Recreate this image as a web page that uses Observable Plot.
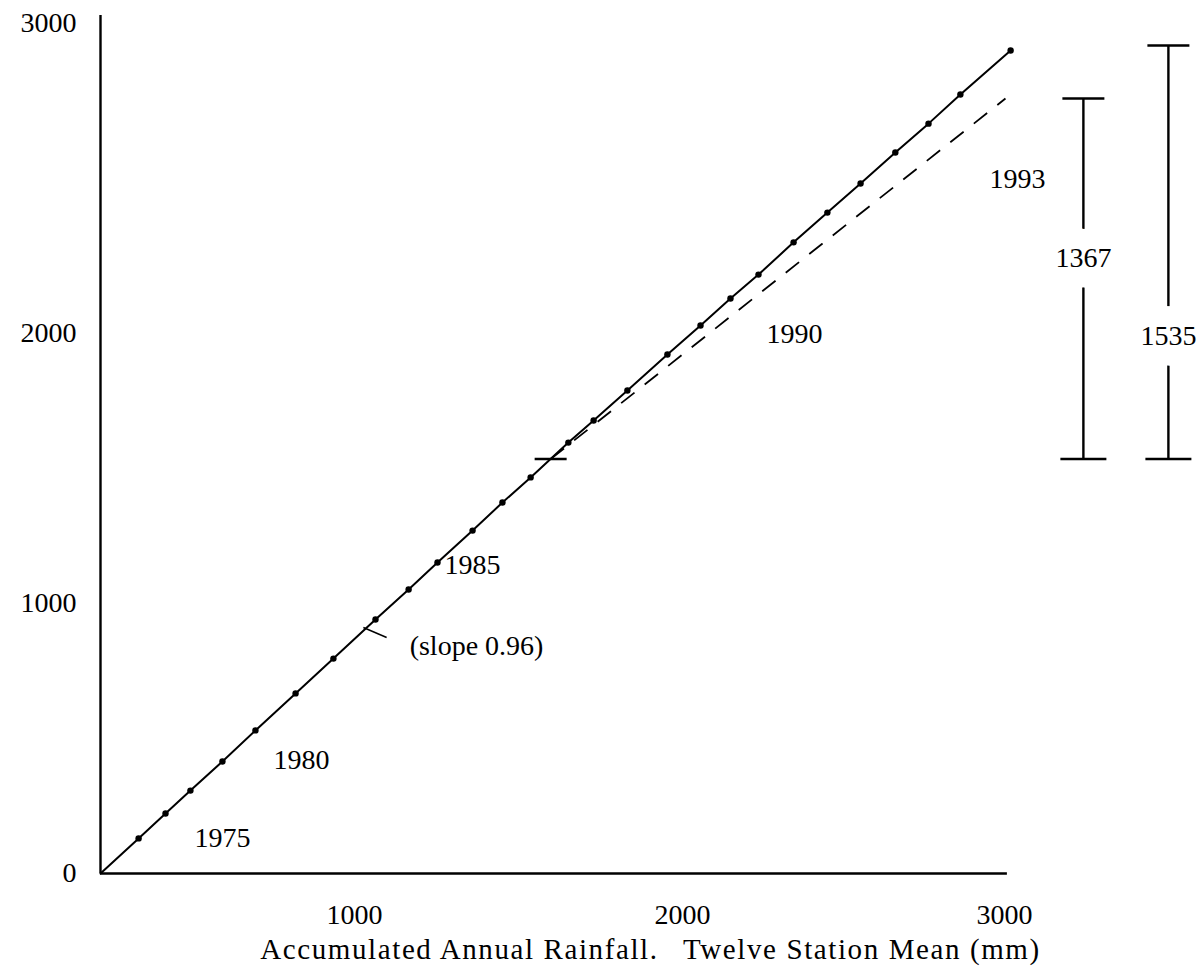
<!DOCTYPE html>
<html><head><meta charset="utf-8">
<script src="https://cdn.jsdelivr.net/npm/d3@7"></script>
<script src="https://cdn.jsdelivr.net/npm/@observablehq/plot@0.6"></script>
<style>body{margin:0;background:#fff} #chart svg{display:block}</style>
</head><body><div id="chart"></div>
<script>
// Double mass curve: accumulated twelve-station mean (x) vs accumulated station rainfall (y), mm
const accMean    = [0,150,256,354,480,610,768,917,1064,1165,1253,1360,1451,1537,1652,1729,1832,1954,2056,2149,2236,2345,2450,2553,2661,2764,2863,3019];
const accStation = [0,130,222,307,415,530,667,796,941,1052,1152,1270,1374,1467,1596,1678,1789,1922,2026,2113,2190,2294,2390,2484,2584,2677,2771,2913];

// break point and projected (pre-break slope) trend
const breakPoint = {x: 1598, y: 1535};
const projectedEnd = {x: 3003, y: 2758};

// comparison bars on the right
const barX      = [3245, 3509];
const barTop    = [2758, 2929];
const barBottom = [1535, 1535];
const barLabel  = ["1367", "1535"];
const barLabelY = [2245, 1989];

// year annotations
const yearText = ["1975", "1980", "1985", "1990", "1993"];
const yearX    = [480, 791, 1360, 2348, 3040];
const yearY    = [130, 419, 1141, 1997, 2497];

// axis ticks (as printed; the scanned axes are not evenly spaced)
const xTicks = [1000, 2000, 3000];
const yTicks = [0, 1000, 2000, 3000];

const xTitle = "Accumulated Annual Rainfall.\u2002 Twelve Station Mean (mm)";

// piecewise warps reproducing the uneven spacing of the printed tick marks
const warpX = d3.scaleLinear([0, 1000, 2000, 3000], [0, 254, 582, 904]);
const warpY = d3.scaleLinear([0, 1000, 2000, 3000], [0, 270, 540, 850]);

const points = accMean.map((x, i) => ({x, y: accStation[i]}));
const bars = barX.map((x, i) => ({x, top: barTop[i], bottom: barBottom[i], label: barLabel[i], ly: barLabelY[i]}));
const years = yearText.map((t, i) => ({t, x: yearX[i], y: yearY[i]}));

const hline = {draw(ctx, size) { const r = Math.sqrt(size / Math.PI); ctx.moveTo(-r, 0); ctx.lineTo(r, 0); }};

const font = "Liberation Serif, Times New Roman, serif";

const chart = Plot.plot({
  width: 1202,
  height: 967,
  marginLeft: 100, marginRight: 198, marginTop: 23, marginBottom: 94,
  style: {fontFamily: font, fontSize: "28px", background: "white", color: "black"},
  x: {transform: warpX, domain: [0, 904]},
  y: {transform: warpY, domain: [0, 850]},
  marks: [
    // axes
    Plot.ruleY([0], {x1: 0, x2: 3009, stroke: "black", strokeWidth: 2.4}),
    Plot.ruleX([0], {y1: 0, y2: 3026, stroke: "black", strokeWidth: 2.4}),
    Plot.axisX(xTicks, {tickSize: 0, tickPadding: 31, label: null, tickFormat: d => String(d)}),
    Plot.axisY(yTicks, {tickSize: 0, tickPadding: 24, label: null, tickFormat: d => String(d)}),
    // projected trend (dashed)
    Plot.link([breakPoint], {x1: "x", y1: "y", x2: () => projectedEnd.x, y2: () => projectedEnd.y,
      stroke: "black", strokeWidth: 1.8, strokeDasharray: "17,13"}),
    // observed double mass curve
    Plot.line(points, {x: "x", y: "y", stroke: "black", strokeWidth: 2}),
    Plot.dot(points.slice(1), {x: "x", y: "y", r: 3.2, fill: "black"}),
    // break marker
    Plot.dot([breakPoint], {x: "x", y: "y", symbol: hline, r: 16, stroke: "black", strokeWidth: 2.6}),
    // slope pointer and label
    Plot.link([0], {x1: 1027, y1: 911, x2: 1098, y2: 874, stroke: "black", strokeWidth: 1.5}),
    Plot.text(["(slope 0.96)"], {x: 1372, y: 841}),
    // comparison bars
    Plot.ruleX(bars, {x: "x", y1: "bottom", y2: "top", stroke: "black", strokeWidth: 2.4}),
    Plot.dot(bars, {x: "x", y: "top", symbol: hline, r: 21, stroke: "black", strokeWidth: 2.6}),
    Plot.dot(bars, {x: "x", y: "bottom", symbol: hline, r: 23, stroke: "black", strokeWidth: 2.6}),
    Plot.text(bars, {x: "x", y: "ly", text: "label", fill: "black", stroke: "white", strokeWidth: 42}),
    // year labels
    Plot.text(years, {x: "x", y: "y", text: "t"}),
    // x axis title
    Plot.text([xTitle], {frameAnchor: "bottom", dx: 98, dy: 85, lineAnchor: "bottom", fontSize: 29})
  ]
});
for (const t of chart.querySelectorAll("text")) {
  if (t.textContent === xTitle) t.style.letterSpacing = "1.6px";
}
document.getElementById("chart").appendChild(chart);
</script>
</body></html>
